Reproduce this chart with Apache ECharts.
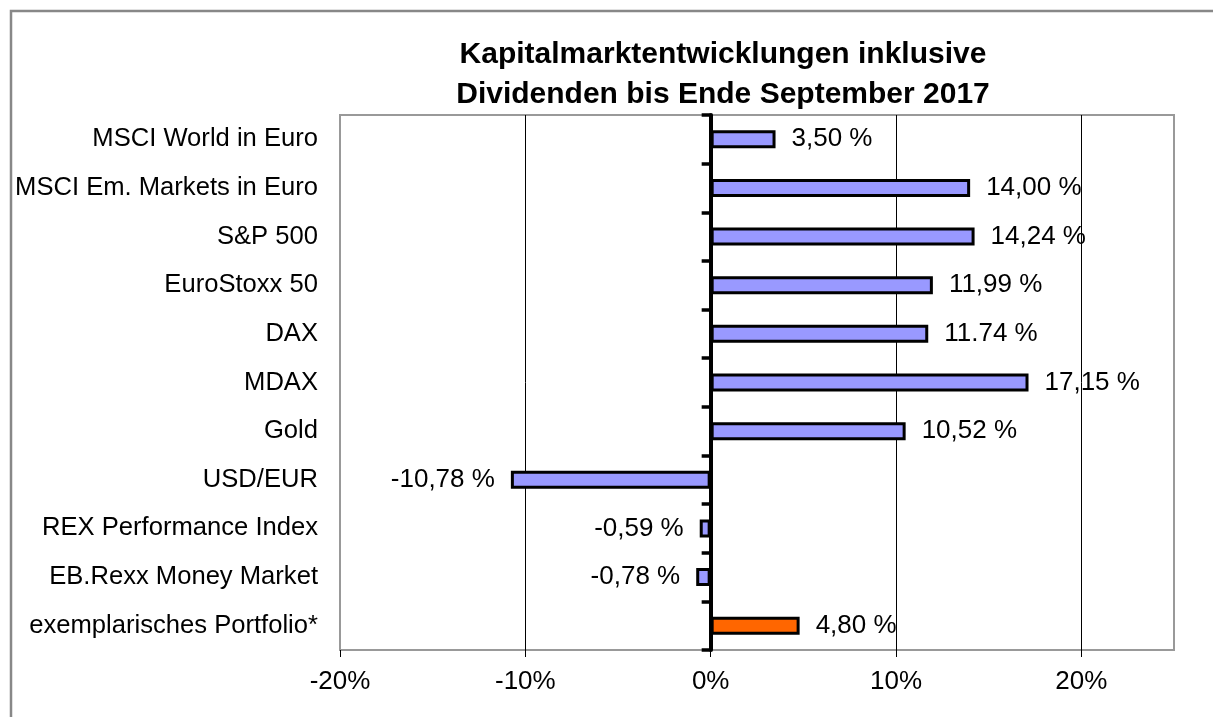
<!DOCTYPE html>
<html>
<head>
<meta charset="utf-8">
<script src="https://cdn.jsdelivr.net/npm/echarts@6/dist/echarts.min.js"></script>
<style>
  html, body { margin: 0; padding: 0; background: #fff; }
  #chart { width: 1213px; height: 717px; }
</style>
</head>
<body>
<div id="chart"></div>
<script>
var categories = [
    'MSCI World in Euro',
    'MSCI Em. Markets in Euro',
    'S&P 500',
    'EuroStoxx 50',
    'DAX',
    'MDAX',
    'Gold',
    'USD/EUR',
    'REX Performance Index',
    'EB.Rexx Money Market',
    'exemplarisches Portfolio*'
];
var values = [3.50, 14.00, 14.24, 11.99, 11.74, 17.15, 10.52, -10.78, -0.59, -0.78, 4.80];
var valueLabels = ['3,50 %', '14,00 %', '14,24 %', '11,99 %', '11.74 %', '17,15 %', '10,52 %', '-10,78 %', '-0,59 %', '-0,78 %', '4,80 %'];
var xTicks = [-20, -10, 0, 10, 20];
var gridLines = [-10, 10, 20];

var myChart = echarts.init(document.getElementById('chart'));
var FONT = 'Liberation Sans, Arial, sans-serif';

// Balken: Portfolio (letzter Eintrag) orange, sonst lila
var barData = values.map(function (v, i) {
    return {
        value: v,
        itemStyle: { color: i === values.length - 1 ? '#FF6600' : '#9999FF' },
        label: {
            position: v < 0 ? 'left' : 'right',
            formatter: valueLabels[i]
        }
    };
});

var option = {
    backgroundColor: '#fff',
    animation: false,
    graphic: [
        {
            type: 'rect',
            shape: { x: 11, y: 11, width: 1400, height: 900 },
            style: { fill: 'none', stroke: '#888', lineWidth: 2.5 },
            silent: true
        },
        {
            type: 'text',
            x: 723,
            y: 35,
            style: {
                text: 'Kapitalmarktentwicklungen inklusive\nDividenden bis Ende September 2017',
                align: 'center',
                verticalAlign: 'top',
                font: 'bold 30px ' + FONT,
                lineHeight: 40,
                fill: '#000'
            }
        }
    ],
    grid: {
        left: 340,
        right: 39,
        top: 115,
        bottom: 67,
        show: true,
        backgroundColor: '#fff',
        borderColor: '#999',
        borderWidth: 2
    },
    xAxis: {
        type: 'value',
        min: -20,
        max: 25,
        interval: 10,
        axisLine: { onZero: false, lineStyle: { color: '#000', width: 2.5 } },
        axisTick: { show: true, length: 7, customValues: xTicks, lineStyle: { color: '#000', width: 1 } },
        axisLabel: {
            customValues: xTicks,
            formatter: function (v) { return v + '%'; },
            color: '#000',
            fontFamily: FONT,
            fontSize: 26,
            margin: 19
        },
        splitLine: { show: false }
    },
    yAxis: [
        {
            type: 'category',
            data: categories,
            inverse: true,
            position: 'left',
            axisLine: { show: false, onZero: false },
            axisTick: { show: false },
            axisLabel: {
                color: '#000',
                fontFamily: FONT,
                fontSize: 25.6,
                margin: 22
            }
        },
        {
            type: 'category',
            data: categories,
            inverse: true,
            position: 'right',
            axisLine: { show: true, onZero: true, lineStyle: { color: '#000', width: 4 } },
            axisTick: { show: true, inside: true, length: 9, lineStyle: { color: '#000', width: 3.5 } },
            axisLabel: { show: false }
        }
    ],
    series: [
        {
            type: 'bar',
            yAxisIndex: 0,
            data: barData,
            barWidth: 18,
            itemStyle: { borderColor: '#000', borderWidth: 3 },
            label: {
                show: true,
                distance: 16,
                color: '#000',
                fontFamily: FONT,
                fontSize: 26
            },
            markLine: {
                silent: true,
                symbol: 'none',
                label: { show: false },
                lineStyle: { color: '#000', width: 1, type: 'solid' },
                data: gridLines.map(function (g) { return { xAxis: g }; }),
                z: 1
            },
            z: 3
        }
    ]
};

myChart.setOption(option);
</script>
</body>
</html>
